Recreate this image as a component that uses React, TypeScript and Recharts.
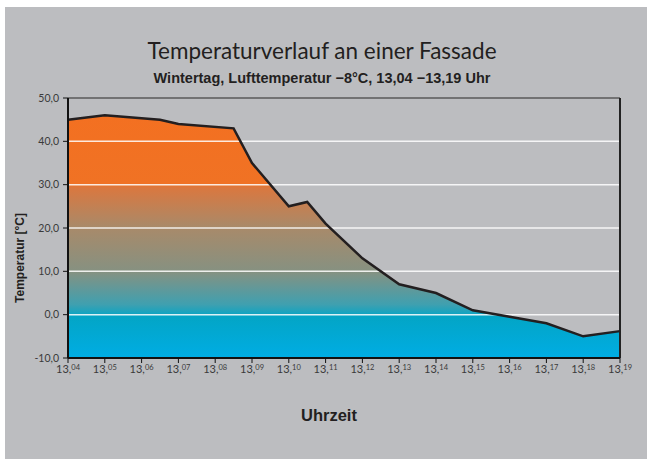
import {
  ComposedChart,
  Area,
  Line,
  XAxis,
  YAxis,
  ReferenceLine,
} from 'recharts';

// minutes after 13:00
const minutes = [4, 5, 6.5, 7, 8.5, 9, 10, 10.5, 11, 12, 13, 14, 15, 16, 17, 18, 19];
const temps = [45, 46, 45, 44, 43, 35, 25, 26, 21, 13, 7, 5, 1, -0.5, -2, -5, -3.8];

const xTicks = [4, 5, 6, 7, 8, 9, 10, 11, 12, 13, 14, 15, 16, 17, 18, 19];
const yTicks = [-10, 0, 10, 20, 30, 40, 50];
const gridLevels = [0, 10, 20, 30, 40];

const data = minutes.map((m, i) => ({ min: m, temp: temps[i] }));

const tickFont = 'Lato, "Open Sans", sans-serif';
const boldFont = '"Liberation Sans", Arial, sans-serif';

function TimeTick({ x, y, payload }: any) {
  const mm = String(payload.value).padStart(2, '0');
  return (
    <text x={x} y={y} dy="0.71em" textAnchor="middle" fontSize={11} fill="#3a3a3a" fontFamily={tickFont}>
      13,
      <tspan fontSize={7.5} dy={-3}>{mm}</tspan>
    </text>
  );
}

export default function App() {
  return (
    <div style={{ position: 'absolute', left: 0, top: 0, width: 647, height: 459, background: '#fff' }}>
      <div style={{ position: 'absolute', left: 5, top: 7, width: 642, height: 452, background: '#bcbdc0' }}>
        <div
          style={{
            position: 'absolute', left: 0, top: 31, width: 634, textAlign: 'center',
            fontFamily: 'Lato, sans-serif', fontSize: 22.5, lineHeight: '26px', color: '#231f20',
          }}
        >
          Temperaturverlauf an einer Fassade
        </div>
        <div
          style={{
            position: 'absolute', left: 0, top: 63, width: 634, textAlign: 'center',
            fontFamily: boldFont, fontWeight: 'bold', fontSize: 14.5,
            lineHeight: '17px', color: '#231f20',
          }}
        >
          Wintertag, Lufttemperatur −8°C, 13,04 −13,19 Uhr
        </div>
        <div
          style={{
            position: 'absolute', left: 0, top: 399, width: 648, textAlign: 'center',
            fontFamily: boldFont, fontWeight: 'bold', fontSize: 16.5,
            lineHeight: '19px', color: '#231f20',
          }}
        >
          Uhrzeit
        </div>
        <div
          style={{
            position: 'absolute', left: 15 - 60, top: 251 - 7, width: 120, textAlign: 'center',
            transform: 'rotate(-90deg)', fontFamily: boldFont,
            fontWeight: 'bold', fontSize: 12, lineHeight: '14px', color: '#231f20',
          }}
        >
          Temperatur [°C]
        </div>
        <ComposedChart
          width={642}
          height={452}
          data={data}
          margin={{ top: 91, right: 27, bottom: 37, left: 0 }}
          style={{ position: 'absolute', left: 0, top: 0 }}
        >
          <defs>
            <linearGradient id="heatGrad" x1="0" y1="0" x2="0" y2="1">
              <stop offset="0" stopColor="#f37021" />
              <stop offset="0.28" stopColor="#f07224" />
              <stop offset="0.3" stopColor="#d97840" />
              <stop offset="0.464" stopColor="#a88a6a" />
              <stop offset="0.643" stopColor="#869181" />
              <stop offset="0.78" stopColor="#3fa0b0" />
              <stop offset="0.83" stopColor="#03a5c6" />
              <stop offset="1" stopColor="#00ade4" />
            </linearGradient>
          </defs>
          <XAxis
            dataKey="min"
            type="number"
            domain={[4, 19]}
            ticks={xTicks}
            tick={<TimeTick />}
            height={64}
            axisLine={{ stroke: '#111', strokeWidth: 2 }}
            tickLine={{ stroke: '#111' }}
            tickSize={5}
            interval={0}
          />
          <YAxis
            domain={[-10, 50]}
            ticks={yTicks}
            width={63}
            axisLine={{ stroke: '#111', strokeWidth: 2 }}
            tickLine={{ stroke: '#111' }}
            tickSize={5}
            tickMargin={4}
            tickFormatter={(v: number) => v.toFixed(1).replace('.', ',')}
            tick={{ fontSize: 10.5, fill: '#3a3a3a', fontFamily: tickFont }}
            interval={0}
          />
          <Area
            type="linear"
            dataKey="temp"
            baseValue="dataMin"
            stroke="none"
            fill="url(#heatGrad)"
            fillOpacity={1}
            isAnimationActive={false}
          />
          {gridLevels.map((g) => (
            <ReferenceLine key={g} y={g} stroke="#ffffff" strokeOpacity={0.85} strokeWidth={1.5} />
          ))}
          <ReferenceLine y={50} stroke="#5a5a5a" strokeWidth={1.5} />
          <ReferenceLine x={19} stroke="#222" strokeWidth={2} />
          <Line
            type="linear"
            dataKey="temp"
            stroke="#231f20"
            strokeWidth={2.5}
            dot={false}
            activeDot={false}
            isAnimationActive={false}
          />
        </ComposedChart>
      </div>
    </div>
  );
}
